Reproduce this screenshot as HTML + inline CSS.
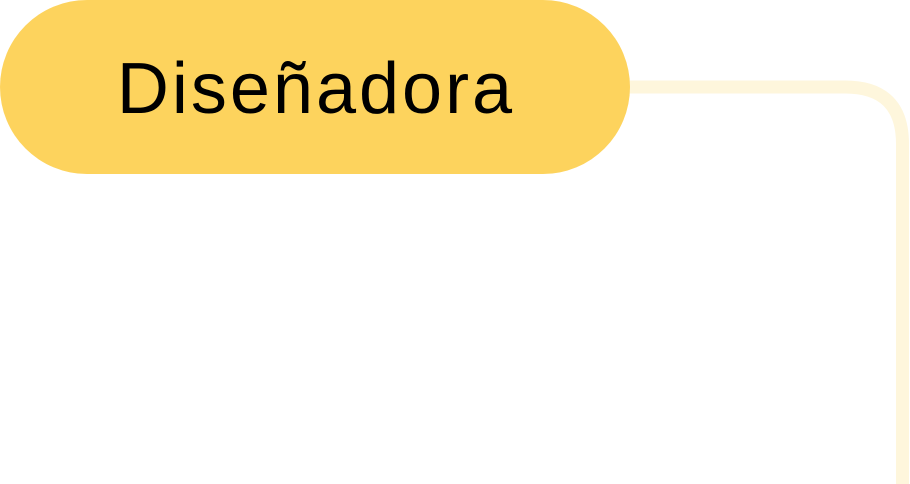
<!DOCTYPE html>
<html><head><style>
html,body{margin:0;padding:0;background:#fff;width:910px;height:484px;overflow:hidden;position:relative}
.pill{position:absolute;left:0;top:0;width:630px;height:174px;border-radius:87px;background:#FDD35D;display:flex;align-items:center;justify-content:center;font-family:"Liberation Sans",sans-serif;font-size:72px;letter-spacing:3px;color:#000}
.pill span{position:relative;top:2px;left:1px}
</style></head><body>
<svg width="910" height="484" style="position:absolute;left:0;top:0">
<path d="M620 87 H845 Q902.5 87 902.5 144 V484" fill="none" stroke="#FEF6DC" stroke-width="13"/>
</svg>
<div class="pill"><span>Diseñadora</span></div>
</body></html>
